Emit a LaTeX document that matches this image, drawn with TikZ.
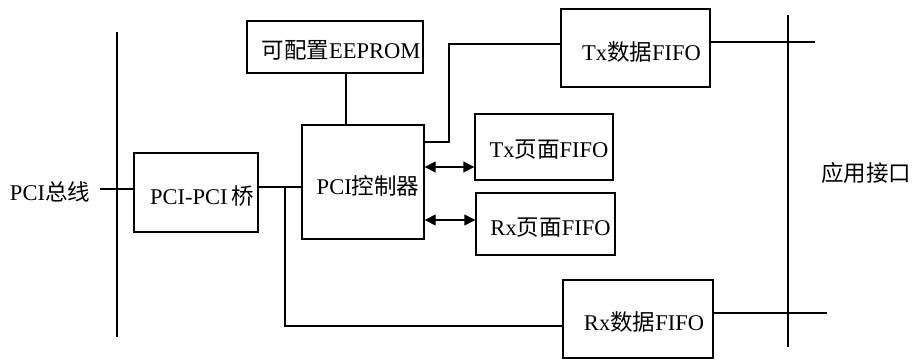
\documentclass[tikz,border=0pt]{standalone}
\usepackage{fontspec}
\setmainfont{Liberation Serif}
\newfontfamily\cjk{Noto Sans CJK SC}
\usetikzlibrary{arrows.meta}
\begin{document}
\begin{tikzpicture}[x=1pt,y=-1pt,
  every node/.style={inner sep=0pt},
  txt/.style={font=\fontsize{22.5}{24}\selectfont},
  blk/.style={draw, line width=1.4pt, minimum width=#1},
  ln/.style={line width=1.4pt},
  dbl/.style={line width=1.4pt, {Triangle[length=11pt,width=11pt]}-{Triangle[length=11pt,width=11pt]}}]
\useasboundingbox (0,0) rectangle (913,359);
% boxes
\node[blk=176pt, minimum height=52pt] (eeprom) at (335,47) {};
\node[blk=124pt, minimum height=79pt] (bridge) at (196,192.5) {};
\node[blk=122pt, minimum height=114pt] (ctrl) at (363,182) {};
\node[blk=149pt, minimum height=78pt] (txdata) at (635.5,48) {};
\node[blk=138pt, minimum height=66pt] (txpage) at (544,147) {};
\node[blk=139pt, minimum height=62pt] (rxpage) at (545.5,224) {};
\node[blk=150pt, minimum height=78pt] (rxdata) at (638,319) {};
% box texts
\node[txt] (teeprom) at ([shift={(6,3)}]eeprom.center) {{\cjk 可配置}EEPROM};
\node[txt] (tbridge) at ([shift={(6,4)}]bridge.center) {PCI-PCI\,{\cjk 桥}};
\node[txt] (tctrl) at ([shift={(5,4)}]ctrl.center) {PCI{\cjk 控制器}};
\node[txt] (ttxdata) at ([shift={(6,4)}]txdata.center) {Tx{\cjk 数据}FIFO};
\node[txt] (ttxpage) at ([shift={(5,3)}]txpage.center) {Tx{\cjk 页面}FIFO};
\node[txt] (trxpage) at ([shift={(5,4)}]rxpage.center) {Rx{\cjk 页面}FIFO};
\node[txt] (trxdata) at ([shift={(6,3)}]rxdata.center) {Rx{\cjk 数据}FIFO};
% labels
\node[txt] (buslbl) at (50,192) {PCI{\cjk 总线}};
\node[txt] (applbl) at (866,173) {{\cjk 应用接口}};
% bus lines
\coordinate (lb1) at (117,32); \coordinate (lb2) at (117,337);
\coordinate (rb1) at (788,15); \coordinate (rb2) at (788,347);
\draw[ln] (lb1) -- (lb2);
\draw[ln] (rb1) -- (rb2);
% connectors
\coordinate (busstub) at (100,189);
\draw[ln] (busstub) -- (bridge.west |- busstub);
\draw[ln] (bridge.east |- 0,187) -- (ctrl.west |- 0,187);
\coordinate (jn) at (285,187);
\draw[ln] (jn) |- (rxdata.west |- 0,326);
\draw[ln] (eeprom.south -| 346,0) -- (ctrl.north -| 346,0);
\draw[ln] (ctrl.east |- 0,142) -| (449,44) -- (txdata.west |- 0,44);
\coordinate (txend) at (815,42);
\draw[ln] (txdata.east |- txend) -- (txend);
\coordinate (rxend) at (827,313);
\draw[ln] (rxdata.east |- rxend) -- (rxend);
\draw[dbl] (ctrl.east |- 0,167) -- (txpage.west |- 0,167);
\draw[dbl] (ctrl.east |- 0,220) -- (rxpage.west |- 0,220);
\end{tikzpicture}
\end{document}
